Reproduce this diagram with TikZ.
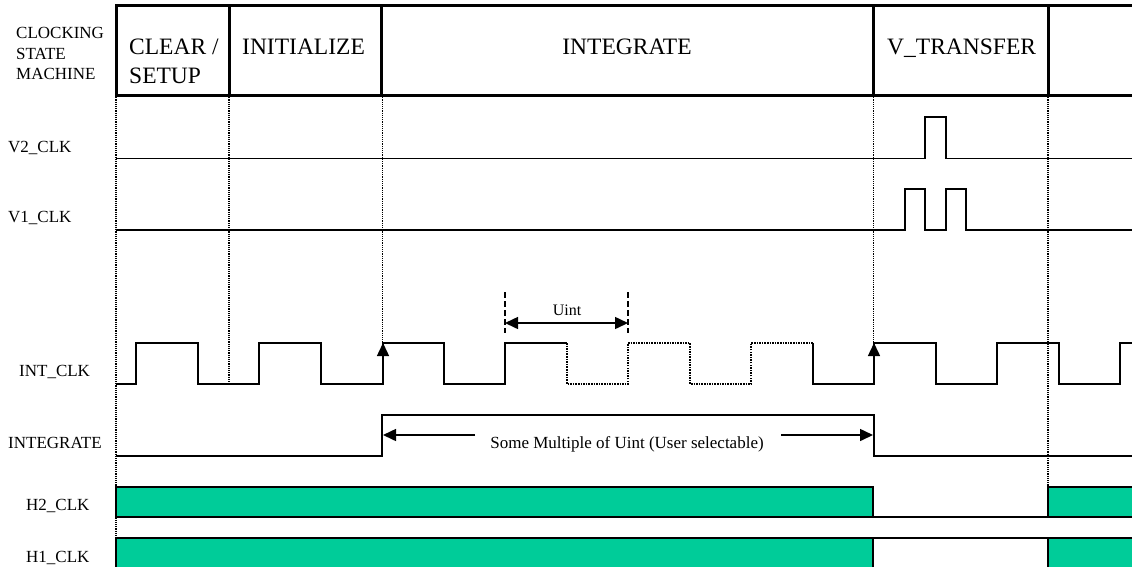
\documentclass[tikz,border=0pt]{standalone}
\usepackage{fontspec}
\setmainfont{Liberation Serif}
\usetikzlibrary{arrows.meta}
\definecolor{hgreen}{HTML}{00CC99}
\begin{document}
\begin{tikzpicture}[x=1pt,y=-1pt,
  lbl/.style={anchor=base west,inner sep=0pt,font=\fontsize{17}{20.5}\selectfont},
  hdr/.style={anchor=base west,inner sep=0pt,font=\fontsize{23.5}{29}\selectfont},
  frame/.style={line width=3pt},
  guide/.style={line width=1.3pt,dash pattern=on 1.2pt off 1pt},
  sig/.style={line width=1.6pt,line join=miter},
  sigdot/.style={line width=1.4pt,dash pattern=on 1.5pt off 1.1pt},
  tri/.tip={Triangle[length=13pt,width=12pt]},
  tip/.style={-tri,line width=1.5pt},
  bar/.style={fill=hgreen,draw=black,line width=1.5pt}]
\useasboundingbox (0,0) rectangle (1132,566);

% header frame
\draw[frame] (1132,5) -- (116,5) -- (116,95) -- (1132,95);
\foreach \xx in {229,381.5,873,1048} \draw[frame] (\xx,5) -- (\xx,95);

% header texts
\node[lbl] (c1) at (16,38) {CLOCKING};
\node[lbl] (c2) at (16,59) {STATE};
\node[lbl] (c3) at (16,79) {MACHINE};
\node[hdr] (h1a) at (129,54) {CLEAR /};
\node[hdr] (h1b) at (129,83) {SETUP};
\node[hdr] (h2) at (242,54) {INITIALIZE};
\node[hdr,anchor=base] (h3) at (627,54) {INTEGRATE};
\node[hdr] (h4) at (887,54) {V\_TRANSFER};

% guide lines
\draw[guide] (116,95) -- (116,566);
\draw[guide] (229,95) -- (229,384);
\draw[guide] (382.5,95) -- (382.5,343);
\draw[guide] (873.5,95) -- (873.5,343);
\draw[guide] (1048,95) -- (1048,487);

% signal labels
\node[lbl] (lv2) at (8,152) {V2\_CLK};
\node[lbl] (lv1) at (8,222) {V1\_CLK};
\node[lbl] (lint) at (19,376) {INT\_CLK};
\node[lbl] (lintg) at (8,448) {INTEGRATE};
\node[lbl] (lh2) at (26,510) {H2\_CLK};
\node[lbl] (lh1) at (26,562) {H1\_CLK};

% V2_CLK
\draw[sig] (116,158.5) -- (925,158.5) -- (925,117) -- (946,117) -- (946,158.5) -- (1132,158.5);
% V1_CLK
\draw[sig] (116,230) -- (905,230) -- (905,189) -- (925,189) -- (925,230) -- (946,230)
  -- (946,189) -- (966,189) -- (966,230) -- (1132,230);

% INT_CLK
\draw[sig] (116,384) -- (136,384) -- (136,343) -- (198,343) -- (198,384) -- (259,384)
  -- (259,343) -- (321,343) -- (321,384) -- (383,384) -- (383,343) -- (444,343)
  -- (444,384) -- (505,384) -- (505,343) -- (567,343);
\draw[sigdot] (567,343) -- (567,384) -- (628,384) -- (628,343) -- (690,343)
  -- (690,384) -- (751,384) -- (751,343) -- (813,343);
\draw[sig] (813,343) -- (813,384) -- (874,384) -- (874,343) -- (936,343) -- (936,384)
  -- (997,384) -- (997,343) -- (1059,343) -- (1059,384) -- (1120,384) -- (1120,343)
  -- (1132,343);
\draw[tip] (383,370) -- (383,343);
\draw[tip] (874,370) -- (874,343);

% Uint marker
\draw[line width=2pt,dash pattern=on 6pt off 3pt] (505,292) -- (505,333);
\draw[line width=2pt,dash pattern=on 6pt off 3pt] (628,292) -- (628,333);
\draw[tri-tri,line width=1.5pt] (505,323) -- (628,323);
\node[anchor=base,inner sep=0pt,font=\fontsize{16}{19}\selectfont] (uint) at (567,315) {Uint};

% INTEGRATE
\draw[sig] (116,456) -- (382,456) -- (382,415) -- (874,415) -- (874,456) -- (1132,456);
\draw[tip] (475,435) -- (383,435);
\draw[tip] (781,435) -- (873,435);
\node[anchor=base,inner sep=0pt,font=\fontsize{17}{20.5}\selectfont] (mult) at (627,448)
  {Some Multiple of Uint (User selectable)};

% H2_CLK
\draw[bar] (116,487) rectangle (873,517);
\draw[bar] (1048,487) rectangle (1140,517);
\draw[sig] (873,517) -- (1048,517);
% H1_CLK
\draw[bar] (116,538) rectangle (873,575);
\draw[bar] (1048,538) rectangle (1140,575);
\draw[sig] (873,538) -- (1048,538);
\end{tikzpicture}
\end{document}
